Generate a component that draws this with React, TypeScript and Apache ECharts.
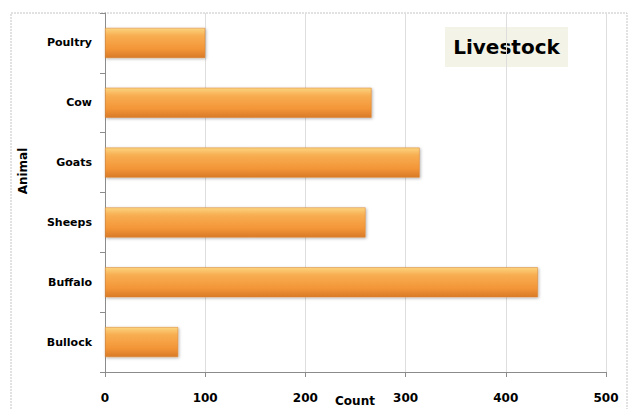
import React, { useEffect, useRef } from "react";
import * as echarts from "echarts";

const categories = ["Bullock", "Buffalo", "Sheeps", "Goats", "Cow", "Poultry"];
const counts = [73, 432, 260, 314, 266, 100];
const xTicks = { min: 0, max: 500, interval: 100 };
const chartTitle = "Livestock";
const xAxisName = "Count";
const yAxisName = "Animal";

export default function App() {
  const ref = useRef<HTMLDivElement>(null);
  useEffect(() => {
    document.body.style.margin = "0";
    const chart = echarts.init(ref.current!, null, { renderer: "svg" });
    const font = "DejaVu Sans";
    chart.setOption({
      animation: false,
      backgroundColor: "#ffffff",
      grid: {
        left: 105,
        top: 13,
        width: 501,
        height: 359,
        containLabel: false,
        outerBoundsMode: "none",
      },
      xAxis: {
        type: "value",
        min: xTicks.min,
        max: xTicks.max,
        interval: xTicks.interval,
        axisLine: { show: true, lineStyle: { color: "#8c8c8c", width: 1 } },
        axisTick: { show: true, length: 5, lineStyle: { color: "#8c8c8c" } },
        axisLabel: { fontFamily: font, fontWeight: "bold", fontSize: 12, color: "#000", margin: 20 },
        splitLine: { show: true, lineStyle: { color: "#dedede", width: 1 } },
      },
      yAxis: {
        type: "category",
        data: categories,
        axisLine: { show: true, lineStyle: { color: "#8c8c8c", width: 1 } },
        axisTick: { show: true, length: 5, lineStyle: { color: "#8c8c8c" } },
        axisLabel: { fontFamily: font, fontWeight: "bold", fontSize: 11, color: "#000", margin: 13 },
        splitLine: { show: false },
      },
      graphic: [
        {
          type: "rect",
          shape: { x: 11, y: 13, width: 616, height: 410 },
          style: { fill: "none", stroke: "#c4c4c4", lineWidth: 1, lineDash: [2, 1] },
          silent: true,
        },
        {
          type: "text",
          x: 23,
          y: 171,
          rotation: Math.PI / 2,
          style: {
            text: yAxisName,
            fontFamily: font,
            fontWeight: "bold",
            fontSize: 12,
            fill: "#000",
            align: "center",
            verticalAlign: "middle",
          },
        },
        {
          type: "text",
          x: 355,
          y: 401,
          style: {
            text: xAxisName,
            fontFamily: font,
            fontWeight: "bold",
            fontSize: 12,
            fill: "#000",
            align: "center",
            verticalAlign: "middle",
          },
        },
        {
          type: "group",
          x: 445,
          y: 27,
          children: [
            {
              type: "rect",
              shape: { x: 0, y: 0, width: 123, height: 40 },
              style: { fill: "#f3f3e7" },
            },
            {
              type: "text",
              x: 61.5,
              y: 20,
              style: {
                text: chartTitle,
                fontFamily: font,
                fontWeight: "bold",
                fontSize: 20,
                fill: "#000",
                align: "center",
                verticalAlign: "middle",
              },
            },
          ],
        },
      ],
      series: [
        {
          type: "bar",
          data: counts,
          barWidth: 30,
          itemStyle: {
            color: new echarts.graphic.LinearGradient(0, 0, 0, 1, [
              { offset: 0, color: "#fbd47f" },
              { offset: 0.25, color: "#f8ae52" },
              { offset: 0.7, color: "#f39638" },
              { offset: 1, color: "#d97a28" },
            ]),
            borderColor: "#d8812e",
            borderWidth: 0.5,
            shadowBlur: 3,
            shadowColor: "rgba(0,0,0,0.3)",
            shadowOffsetX: 1,
            shadowOffsetY: 1,
          },
        },
      ],
    });
    return () => chart.dispose();
  }, []);
  return <div ref={ref} style={{ width: 629, height: 409 }} />;
}
